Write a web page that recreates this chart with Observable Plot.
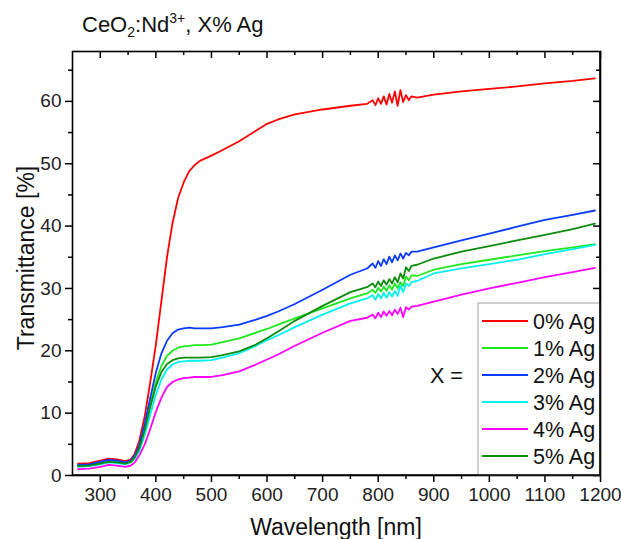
<!DOCTYPE html>
<html>
<head>
<meta charset="utf-8">
<script src="https://cdn.jsdelivr.net/npm/d3@7"></script>
<script src="https://cdn.jsdelivr.net/npm/@observablehq/plot@0.6"></script>
<style>
  body { margin: 0; background: #fff; font-family: "Liberation Sans", Arial, sans-serif; }
  #wrap { position: relative; width: 621px; height: 539px; overflow: hidden; background: #fff; }
  #title { position: absolute; left: 82px; top: 14px; font-size: 22px; line-height: 22px; color: #111; white-space: nowrap; }
  #title sub { font-size: 14px; vertical-align: baseline; position: relative; top: 5px; }
  #title sup { font-size: 14px; vertical-align: baseline; position: relative; top: -9px; }
  #chart { position: absolute; left: 0; top: 40px; }
</style>
</head>
<body>
<div id="wrap">
  <div id="title">CeO<sub>2</sub>:Nd<sup>3+</sup>, X% Ag</div>
  <div id="chart"></div>
</div>
<script>
// ---- data ----
const wavelength = [260, 280, 300, 315, 330, 345, 355, 362, 370, 380,
  390, 400, 410, 420, 430, 440, 450, 460, 470, 480,
  500, 520, 550, 580, 600, 620, 650, 700, 750, 780,
  790, 795, 800, 805, 810, 815, 820, 825, 830, 835,
  840, 845, 850, 855, 860, 870, 900, 950, 1000, 1050,
  1100, 1150, 1190];

const ag0 = [1.9, 2.0, 2.4, 2.7, 2.6, 2.3, 2.6, 3.5, 5.5, 9.5,
  15, 21, 28, 35, 40.5, 44.5, 47, 48.8, 49.8, 50.5,
  51.3, 52.2, 53.6, 55.3, 56.4, 57.1, 57.9, 58.7, 59.3, 59.6,
  60.2, 59.4, 60.5, 59.6, 60.8, 59.5, 61.2, 59.8, 61.6, 59.3,
  61.8, 59.9, 61.0, 60.2, 60.8, 60.6, 61.1, 61.6, 62.0, 62.4,
  62.9, 63.3, 63.7];

const ag1 = [1.6, 1.7, 2.0, 2.3, 2.2, 2.0, 2.3, 3.0, 4.5, 7.5,
  11.5, 15, 17.6, 19.2, 20.0, 20.5, 20.7, 20.8, 20.9, 20.9,
  21.0, 21.4, 22.0, 22.9, 23.5, 24.2, 25.2, 26.8, 28.4, 29.2,
  29.8, 29.3, 30.1, 29.5, 30.3, 29.6, 30.5, 29.8, 30.8, 30.0,
  31.0, 30.4, 31.9, 31.3, 32.1, 32.0, 33.0, 33.9, 34.6, 35.3,
  36.0, 36.6, 37.1];

const ag2 = [1.7, 1.8, 2.2, 2.5, 2.4, 2.1, 2.4, 3.2, 4.8, 8.3,
  12.5, 16.5, 19.6, 21.6, 22.8, 23.4, 23.6, 23.7, 23.6, 23.6,
  23.6, 23.8, 24.2, 25.0, 25.6, 26.3, 27.5, 29.8, 32.2, 33.2,
  34.0, 33.3, 34.4, 33.6, 34.7, 33.9, 35.1, 34.2, 35.3, 34.5,
  35.6, 34.8, 35.7, 35.3, 35.9, 35.9, 36.6, 37.7, 38.8, 39.9,
  41.0, 41.8, 42.5];

const ag3 = [1.4, 1.5, 1.8, 2.1, 2.0, 1.8, 2.1, 2.7, 3.9, 6.5,
  9.8, 13, 15.4, 17.0, 17.8, 18.2, 18.3, 18.4, 18.4, 18.4,
  18.5, 18.9, 19.6, 20.8, 21.7, 22.5, 23.8, 25.8, 27.6, 28.4,
  28.9, 28.2, 29.1, 28.4, 29.3, 28.5, 29.4, 28.7, 29.6, 28.8,
  30.5, 29.4, 30.8, 30.4, 31.0, 31.2, 32.4, 33.2, 33.9, 34.6,
  35.5, 36.3, 37.0];

const ag4 = [1.0, 1.1, 1.4, 1.7, 1.6, 1.4, 1.6, 2.1, 3.2, 5.0,
  7.5, 10.2, 12.5, 14.2, 15.0, 15.4, 15.6, 15.7, 15.8, 15.8,
  15.8, 16.1, 16.7, 17.8, 18.6, 19.4, 20.8, 22.9, 24.8, 25.3,
  25.8, 25.2, 26.1, 25.4, 26.3, 25.6, 26.4, 25.7, 26.6, 25.9,
  26.9, 25.4, 27.0, 26.6, 27.1, 27.2, 27.9, 29.0, 30.0, 30.9,
  31.8, 32.6, 33.3];

const ag5 = [1.5, 1.6, 1.9, 2.2, 2.1, 1.9, 2.2, 2.9, 4.3, 7.3,
  11, 14.3, 16.6, 17.9, 18.5, 18.8, 18.9, 18.9, 18.9, 18.9,
  19.0, 19.3, 19.9, 21.0, 22.0, 23.1, 24.8, 27.2, 29.4, 30.2,
  30.8, 30.2, 31.1, 30.4, 31.3, 30.6, 31.5, 30.8, 31.8, 31.0,
  32.4, 31.6, 33.4, 32.8, 33.6, 33.8, 34.8, 35.9, 36.8, 37.7,
  38.6, 39.5, 40.4];

const seriesNames = ["0% Ag", "1% Ag", "2% Ag", "3% Ag", "4% Ag", "5% Ag"];
const seriesValues = [ag0, ag1, ag2, ag3, ag4, ag5];
const seriesColors = ["#ff0000", "#1ee81e", "#0a3cff", "#00f0f0", "#ff00ff", "#0b8c0b"];

const xTicks = [300, 400, 500, 600, 700, 800, 900, 1000, 1100, 1200];
const xMinor = [350, 450, 550, 650, 750, 850, 950, 1050, 1150];
const yTicks = [0, 10, 20, 30, 40, 50, 60];
const yMinor = [5, 15, 25, 35, 45, 55, 65];

// ---- layout ----
const W = 621, H = 499;
const mT = 11, mB = 64, mL = 72, mR = 21;
const innerW = W - mL - mR, innerH = H - mT - mB;

const lineMarks = seriesValues.map((vals, i) =>
  Plot.line(wavelength.map((w, j) => ({w, t: vals[j]})), {
    x: "w", y: "t", stroke: seriesColors[i], strokeWidth: 1.8
  })
);

const svg = Plot.plot({
  width: W, height: H,
  marginTop: mT, marginBottom: mB, marginLeft: mL, marginRight: mR,
  style: {fontFamily: "Liberation Sans, Arial, sans-serif", background: "white", color: "#000"},
  x: {domain: [250, 1200]},
  y: {domain: [0, 68]},
  marks: [
    ...lineMarks,
    Plot.axisX(xTicks, {tickSize: 7, tickPadding: 5, fontSize: 19, strokeWidth: 1.5, label: null, tickFormat: d => String(d), fill: "#222"}),
    Plot.tickX(xMinor, {x: d => d, insetTop: innerH, insetBottom: -4, strokeWidth: 1.5}),
    Plot.tickX(xTicks, {x: d => d, insetBottom: innerH - 7, strokeWidth: 1.5}),
    Plot.tickX(xMinor, {x: d => d, insetBottom: innerH - 4, strokeWidth: 1.5}),
    Plot.axisY(yTicks, {tickSize: 7, tickPadding: 4, fontSize: 19, strokeWidth: 1.5, label: null, tickFormat: d => String(d), fill: "#222"}),
    Plot.tickY(yMinor, {y: d => d, insetLeft: -4, insetRight: innerW, strokeWidth: 1.5}),
    Plot.tickY(yTicks, {y: d => d, insetLeft: innerW - 7, strokeWidth: 1.5}),
    Plot.tickY(yMinor, {y: d => d, insetLeft: innerW - 4, strokeWidth: 1.5}),
    Plot.frame({stroke: "#000", strokeWidth: 1.6})
  ]
});

const s = d3.select(svg);
// axis titles
s.append("text").attr("x", mL + innerW / 2).attr("y", 495)
  .attr("text-anchor", "middle").attr("font-size", 23).attr("fill", "#111")
  .text("Wavelength [nm]");
s.append("text").attr("transform", `translate(34,${mT + innerH / 2 - 5}) rotate(-90)`)
  .attr("text-anchor", "middle").attr("font-size", 23).attr("fill", "#111")
  .text("Transmittance [%]");

// legend
const lg = s.append("g");
const boxX = 478, boxY = 263, boxW = W - mR - boxX, boxH = H - mB - boxY;
lg.append("rect").attr("x", boxX).attr("y", boxY).attr("width", boxW).attr("height", boxH)
  .attr("fill", "white").attr("stroke", "#a0a0a0").attr("stroke-width", 1);
seriesNames.forEach((name, i) => {
  const yy = boxY + 18 + i * 27;
  lg.append("line").attr("x1", boxX + 4).attr("x2", boxX + 50).attr("y1", yy).attr("y2", yy)
    .attr("stroke", seriesColors[i]).attr("stroke-width", 2.2);
  lg.append("text").attr("x", boxX + 55).attr("y", yy).attr("dy", "0.36em")
    .attr("text-anchor", "start")
    .attr("font-size", 21.5).attr("fill", "#111").text(name);
});
lg.append("text").attr("x", 430).attr("y", boxY + 18 + 2 * 27).attr("dy", "0.36em")
  .attr("text-anchor", "start")
  .attr("font-size", 21.5).attr("fill", "#111").text("X =");
// redraw frame edges over legend
s.append("line").attr("x1", W - mR).attr("x2", W - mR).attr("y1", mT).attr("y2", H - mB)
  .attr("stroke", "#000").attr("stroke-width", 1.6);
s.append("line").attr("x1", mL).attr("x2", W - mR).attr("y1", H - mB).attr("y2", H - mB)
  .attr("stroke", "#000").attr("stroke-width", 1.6);

document.getElementById("chart").appendChild(svg);
</script>
</body>
</html>
